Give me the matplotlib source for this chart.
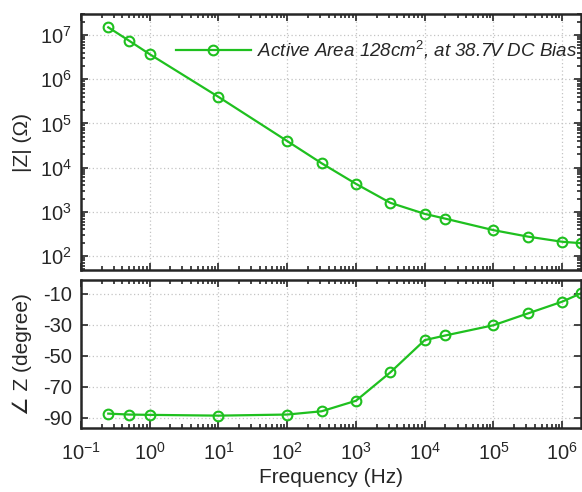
import numpy as np
import matplotlib
matplotlib.use("Agg")
import matplotlib.pyplot as plt
from matplotlib.ticker import LogLocator, NullFormatter, FixedLocator

plt.rcParams['font.family'] = ['Liberation Sans', 'DejaVu Sans']
plt.rcParams['mathtext.fontset'] = 'custom'
plt.rcParams['mathtext.rm'] = 'Liberation Sans'
plt.rcParams['mathtext.it'] = 'Liberation Sans:italic'
plt.rcParams['axes.unicode_minus'] = False

# data
freq = [0.25, 0.5, 1, 10, 100, 316, 1000, 3162, 1e4, 2e4, 1e5, 3.16e5, 1e6, 1.9e6]
mag = [1.5e7, 7.5e6, 3.7e6, 4.0e5, 4.0e4, 1.26e4, 4.3e3, 1.6e3, 9.0e2, 7.0e2,
       3.85e2, 2.75e2, 2.1e2, 1.95e2]
phase = [-87.2, -87.8, -88.0, -88.5, -87.8, -85.7, -78.9, -60.6, -39.8, -36.8,
         -30.2, -22.6, -15.0, -9.5]
legend_label = 'Active Area 128cm$^2$, at 38.7V DC Bias'
mag_ticks = [1e2, 1e3, 1e4, 1e5, 1e6, 1e7]
phase_ticks = [-90, -70, -50, -30, -10]
freq_ticks = [1e-1, 1e0, 1e1, 1e2, 1e3, 1e4, 1e5, 1e6]

green = '#1fc01f'
dark = '#262626'
grid_kw = dict(color='#c4c4c4', linestyle=(0, (1, 2)), linewidth=0.9)

fig = plt.figure(figsize=(5.82, 4.92), dpi=100)
ax1 = fig.add_axes([0.139, 0.451, 0.860, 0.5205])
ax2 = fig.add_axes([0.139, 0.130, 0.860, 0.301])

ax1.plot(freq, mag, '-o', color=green, lw=1.6, ms=7, mfc='none', mew=1.5,
         label=legend_label)
ax2.plot(freq, phase, '-o', color=green, lw=1.6, ms=7, mfc='none', mew=1.5)

for ax in (ax1, ax2):
    ax.set_xscale('log')
    ax.set_xlim(0.1, 1.9e6)
    ax.xaxis.set_major_locator(FixedLocator(freq_ticks))
    ax.xaxis.set_minor_locator(LogLocator(base=10, subs=np.arange(2, 10)))
    ax.xaxis.set_minor_formatter(NullFormatter())
    ax.grid(True, which='major', **grid_kw)
    ax.set_axisbelow(True)
    for s in ax.spines.values():
        s.set_linewidth(1.8)
        s.set_color(dark)
    ax.tick_params(which='both', direction='in', top=True, right=True,
                   colors=dark, labelsize=14.5, width=1.2)
    ax.tick_params(which='major', length=5)
    ax.tick_params(which='minor', length=3)
    ax.tick_params(axis='y', pad=6.5)
    ax.yaxis.set_label_coords(-0.098, 0.5)

ax1.set_yscale('log')
ax1.set_ylim(48, 3e7)
ax1.yaxis.set_major_locator(FixedLocator(mag_ticks))
ax1.yaxis.set_minor_locator(LogLocator(base=10, subs=np.arange(2, 10)))
ax1.yaxis.set_minor_formatter(NullFormatter())
ax1.set_yticklabels([f'$10^{{{int(np.log10(t))}}}$' for t in mag_ticks])
ax1.tick_params(axis='x', labelbottom=False)
ax1.set_ylabel('|Z| (Ω)', fontsize=15, color=dark)

ax2.set_ylim(-96.5, -1)
ax2.set_yticks(phase_ticks)
ax2.set_xticklabels([f'$10^{{{int(np.log10(t))}}}$' for t in freq_ticks])
ax2.tick_params(axis='x', pad=10)
ax2.set_ylabel('∠ Z (degree)', fontsize=15, color=dark)
ax2.set_xlabel('Frequency (Hz)', fontsize=15, color=dark, labelpad=3)

leg = ax1.legend(loc='center left', bbox_to_anchor=(0.19, 0.859), frameon=False,
                 prop={'style': 'italic', 'size': 13.5}, handlelength=4.0,
                 handletextpad=0.3, borderpad=0, borderaxespad=0)
for t in leg.get_texts():
    t.set_color(dark)

fig.savefig('out.png', dpi=100)
